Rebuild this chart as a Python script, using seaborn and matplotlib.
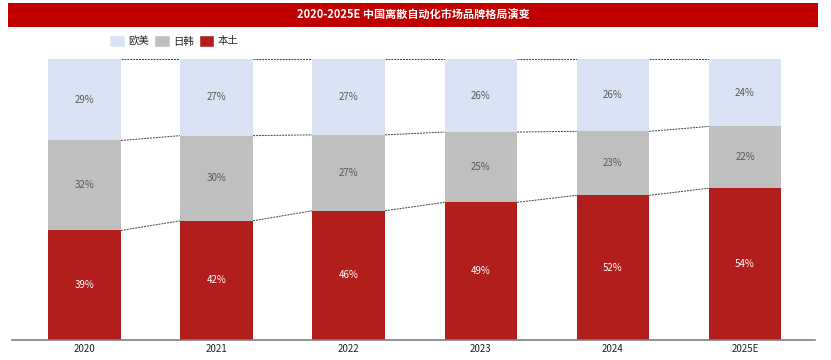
import matplotlib
matplotlib.use("Agg")
import matplotlib.pyplot as plt
from matplotlib.patches import Patch, Rectangle
import seaborn as sns
import pandas as pd
import numpy as np

sns.set_theme(style="white")
plt.rcParams['font.family'] = ['Noto Sans CJK SC', 'DejaVu Sans']

years = ["2020", "2021", "2022", "2023", "2024", "2025E"]
local = [39, 42, 46, 49, 52, 54]      # 本土
jk = [32, 30, 27, 25, 23, 22]         # 日韩
euus = [29, 27, 27, 26, 26, 24]       # 欧美

c_eu = "#DAE3F3"
c_jk = "#BFBFBF"
c_lo = "#B21E1B"

fig = plt.figure(figsize=(8.31, 3.6), dpi=100)
# title bar
fig.patches.append(Rectangle((8/831, 1-27/360), 810/831, 24/360, transform=fig.transFigure,
                             facecolor="#C00000", edgecolor="none", zorder=0))
fig.text(413/831, 1-15/360, "2020-2025E 中国离散自动化市场品牌格局演变", color="white",
         fontsize=8, fontweight="bold", ha="center", va="center")

ax = fig.add_axes([12/831, 20/360, 803/831, 281/360])
df = pd.DataFrame({"year": years, "local": local, "jk": jk, "eu": euus})
tot = df["local"] + df["jk"] + df["eu"]
# 100% stacked shares
df["p1"] = df["local"] / tot * 100
df["p2"] = (df["local"] + df["jk"]) / tot * 100
df["p3"] = (df["local"] + df["jk"] + df["eu"]) / tot * 100

w = 0.55
sns.barplot(data=df, x="year", y="p3", color=c_eu, width=w, saturation=1, ax=ax, edgecolor="none")
sns.barplot(data=df, x="year", y="p2", color=c_jk, width=w, saturation=1, ax=ax, edgecolor="none")
sns.barplot(data=df, x="year", y="p1", color=c_lo, width=w, saturation=1, ax=ax, edgecolor="none")

# connector dashed lines
for i in range(len(years) - 1):
    for key in ["p1", "p2", "p3"]:
        ax.plot([i + w/2, i + 1 - w/2], [df[key][i], df[key][i+1]], ls=(0, (2, 1)),
                color="#404040", lw=0.7, zorder=0.5)

for i in range(len(years)):
    ax.text(i, df["p1"][i]/2, f"{local[i]}%", ha="center", va="center", color="white", fontsize=7)
    ax.text(i, (df["p1"][i] + df["p2"][i])/2, f"{jk[i]}%", ha="center", va="center", color="#595959", fontsize=7)
    ax.text(i, (df["p2"][i] + df["p3"][i])/2, f"{euus[i]}%", ha="center", va="center", color="#595959", fontsize=7)

ax.set_xlim(-0.55, 5.53)
ax.set_ylim(0, 100)
ax.set_xlabel("")
ax.set_ylabel("")
ax.set_yticks([])
for s in ["top", "right", "left"]:
    ax.spines[s].set_visible(False)
ax.spines["bottom"].set_color("#808080")
ax.spines["bottom"].set_linewidth(1.2)
ax.tick_params(axis="x", length=0, labelsize=7, colors="#222222", pad=3)

handles = [Patch(facecolor=c_eu, label="欧美"), Patch(facecolor=c_jk, label="日韩"), Patch(facecolor=c_lo, label="本土")]
fig.legend(handles=handles, loc="center left", bbox_to_anchor=(100/831, 1-41/360), ncol=3, frameon=False,
           fontsize=7.5, handlelength=1.5, handleheight=1.3, handletextpad=0.3, columnspacing=0.5)

fig.savefig("out.png", dpi=100)
